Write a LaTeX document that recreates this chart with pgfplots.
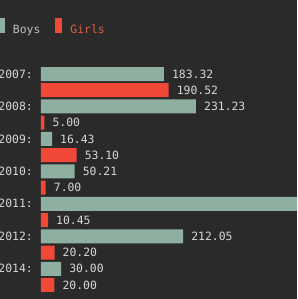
\documentclass[border=0pt]{standalone}
\usepackage{pgfplots}
\pgfplotsset{compat=1.18}
\usepackage{fontspec}
\setmainfont{DejaVu Sans Mono}
\setmonofont{DejaVu Sans Mono}
\definecolor{bg}{RGB}{42,42,42}
\definecolor{boys}{RGB}{143,176,160}
\definecolor{girls}{RGB}{242,72,56}
\definecolor{txt}{RGB}{215,215,215}
\definecolor{boystxt}{RGB}{190,190,190}
\definecolor{girltxt}{RGB}{222,92,70}
\newcommand{\tf}{\fontsize{11.4}{12}\selectfont}
\begin{document}
\begin{tikzpicture}[x=1pt,y=1pt]
\fill[bg] (0,0) rectangle (297,299);
\begin{axis}[
  at={(41pt,5.9pt)}, anchor=south west,
  scale only axis, width=256pt, height=227.2pt,
  xmin=0, xmax=382, ymin=-0.5, ymax=13.5, y dir=reverse,
  xbar, bar width=14pt, bar shift=0pt,
  axis line style={draw=none}, major tick length=0pt,
  xtick=\empty,
  ytick={0,2,4,6,8,10,12},
  yticklabels={2007:,2008:,2009:,2010:,2011:,2012:,2014:},
  yticklabel style={inner sep=0pt, xshift=-8pt, text=txt, font=\tf},
  /pgf/number format/assume math mode=true,
  point meta=x,
  nodes near coords={\pgfmathprintnumber[fixed,fixed zerofill,precision=2,1000 sep={}]{\pgfplotspointmeta}},
  nodes near coords style={anchor=west, inner sep=0pt, xshift=8pt, text=txt, font=\tf},
  clip=true,
  legend columns=2,
  legend image code/.code={\fill (0pt,-3pt) rectangle (7pt,12pt);},
  legend style={draw=none, fill=none, inner sep=0pt, outer sep=0pt,
    at={(axis description cs:0,1)}, anchor=west, xshift=-43pt, yshift=39pt,
    column sep=8pt, font=\tf, nodes={inner sep=0pt},
    /tikz/every even column/.append style={column sep=15pt}},
]
\addplot[fill=boys, draw=none] coordinates {(183.32,0) (231.23,2) (16.43,4) (50.21,6) (400,8) (212.05,10) (30.00,12)};
\addlegendentry{\textcolor{boystxt}{Boys}}
\addplot[fill=girls, draw=none] coordinates {(190.52,1) (5.00,3) (53.10,5) (7.00,7) (10.45,9) (20.20,11) (20.00,13)};
\addlegendentry{\textcolor{girltxt}{Girls}}
\end{axis}
\pgfresetboundingbox
\path[use as bounding box] (0,0) rectangle (297,299);
\end{tikzpicture}
\end{document}
